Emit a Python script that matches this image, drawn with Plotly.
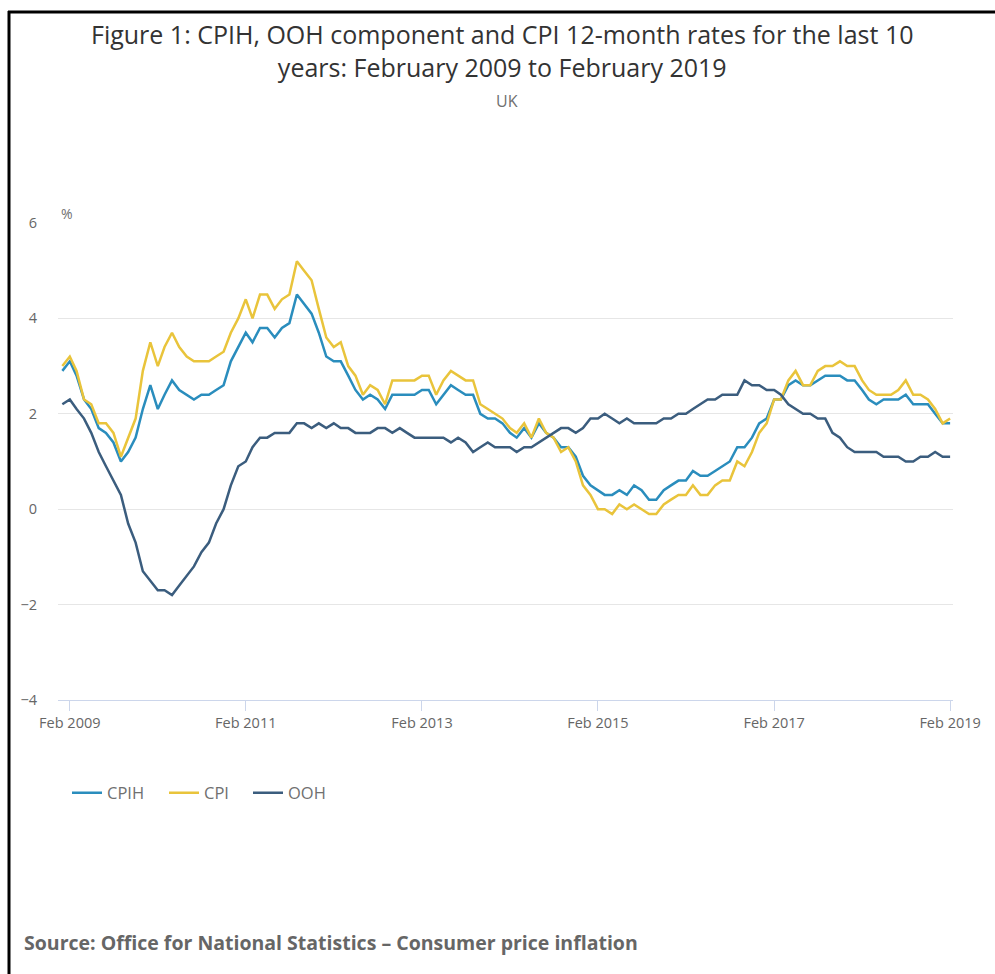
import pandas as pd
import plotly.graph_objects as go

months = pd.date_range("2009-01-01", "2019-02-01", freq="MS")

cpih = [2.9, 3.1, 2.8, 2.3, 2.1, 1.7, 1.6, 1.4, 1.0, 1.2, 1.5, 2.1,
        2.6, 2.1, 2.4, 2.7, 2.5, 2.4, 2.3, 2.4, 2.4, 2.5, 2.6, 3.1,
        3.4, 3.7, 3.5, 3.8, 3.8, 3.6, 3.8, 3.9, 4.5, 4.3, 4.1, 3.7,
        3.2, 3.1, 3.1, 2.8, 2.5, 2.3, 2.4, 2.3, 2.1, 2.4, 2.4, 2.4,
        2.4, 2.5, 2.5, 2.2, 2.4, 2.6, 2.5, 2.4, 2.4, 2.0, 1.9, 1.9,
        1.8, 1.6, 1.5, 1.7, 1.5, 1.8, 1.6, 1.5, 1.3, 1.3, 1.1, 0.7,
        0.5, 0.4, 0.3, 0.3, 0.4, 0.3, 0.5, 0.4, 0.2, 0.2, 0.4, 0.5,
        0.6, 0.6, 0.8, 0.7, 0.7, 0.8, 0.9, 1.0, 1.3, 1.3, 1.5, 1.8,
        1.9, 2.3, 2.3, 2.6, 2.7, 2.6, 2.6, 2.7, 2.8, 2.8, 2.8, 2.7,
        2.7, 2.5, 2.3, 2.2, 2.3, 2.3, 2.3, 2.4, 2.2, 2.2, 2.2, 2.0,
        1.8, 1.8]

cpi = [3.0, 3.2, 2.9, 2.3, 2.2, 1.8, 1.8, 1.6, 1.1, 1.5, 1.9, 2.9,
       3.5, 3.0, 3.4, 3.7, 3.4, 3.2, 3.1, 3.1, 3.1, 3.2, 3.3, 3.7,
       4.0, 4.4, 4.0, 4.5, 4.5, 4.2, 4.4, 4.5, 5.2, 5.0, 4.8, 4.2,
       3.6, 3.4, 3.5, 3.0, 2.8, 2.4, 2.6, 2.5, 2.2, 2.7, 2.7, 2.7,
       2.7, 2.8, 2.8, 2.4, 2.7, 2.9, 2.8, 2.7, 2.7, 2.2, 2.1, 2.0,
       1.9, 1.7, 1.6, 1.8, 1.5, 1.9, 1.6, 1.5, 1.2, 1.3, 1.0, 0.5,
       0.3, 0.0, 0.0, -0.1, 0.1, 0.0, 0.1, 0.0, -0.1, -0.1, 0.1, 0.2,
       0.3, 0.3, 0.5, 0.3, 0.3, 0.5, 0.6, 0.6, 1.0, 0.9, 1.2, 1.6,
       1.8, 2.3, 2.3, 2.7, 2.9, 2.6, 2.6, 2.9, 3.0, 3.0, 3.1, 3.0,
       3.0, 2.7, 2.5, 2.4, 2.4, 2.4, 2.5, 2.7, 2.4, 2.4, 2.3, 2.1,
       1.8, 1.9]

ooh = [2.2, 2.3, 2.1, 1.9, 1.6, 1.2, 0.9, 0.6, 0.3, -0.3, -0.7, -1.3,
       -1.5, -1.7, -1.7, -1.8, -1.6, -1.4, -1.2, -0.9, -0.7, -0.3, 0.0, 0.5,
       0.9, 1.0, 1.3, 1.5, 1.5, 1.6, 1.6, 1.6, 1.8, 1.8, 1.7, 1.8,
       1.7, 1.8, 1.7, 1.7, 1.6, 1.6, 1.6, 1.7, 1.7, 1.6, 1.7, 1.6,
       1.5, 1.5, 1.5, 1.5, 1.5, 1.4, 1.5, 1.4, 1.2, 1.3, 1.4, 1.3,
       1.3, 1.3, 1.2, 1.3, 1.3, 1.4, 1.5, 1.6, 1.7, 1.7, 1.6, 1.7,
       1.9, 1.9, 2.0, 1.9, 1.8, 1.9, 1.8, 1.8, 1.8, 1.8, 1.9, 1.9,
       2.0, 2.0, 2.1, 2.2, 2.3, 2.3, 2.4, 2.4, 2.4, 2.7, 2.6, 2.6,
       2.5, 2.5, 2.4, 2.2, 2.1, 2.0, 2.0, 1.9, 1.9, 1.6, 1.5, 1.3,
       1.2, 1.2, 1.2, 1.2, 1.1, 1.1, 1.1, 1.0, 1.0, 1.1, 1.1, 1.2,
       1.1, 1.1]

tick_dates = ["2009-02-01", "2011-02-01", "2013-02-01", "2015-02-01", "2017-02-01", "2019-02-01"]
tick_labels = ["Feb 2009", "Feb 2011", "Feb 2013", "Feb 2015", "Feb 2017", "Feb 2019"]
y_ticks = [-4, -2, 0, 2, 4, 6]

series = [("CPIH", cpih, "#2a8dbd"), ("CPI", cpi, "#e9c43b"), ("OOH", ooh, "#3b5d7e")]

FONT = "Open Sans"
W, H = 995, 974
L, R, T, B = 58, 42, 223, 274
PW, PH = W - L - R, H - T - B


def px(x):
    return (x - L) / PW


def py(y):
    return (H - B - y) / PH


legend_keys = ["legend", "legend2", "legend3"]
legend_text_x = [107, 204, 288]

fig = go.Figure()
for (name, vals, col), key in zip(series, legend_keys):
    fig.add_trace(go.Scatter(x=months, y=vals, mode="lines", name=name,
                             line=dict(color=col, width=2.5), legend=key))

legend_layout = {}
for key, tx in zip(legend_keys, legend_text_x):
    legend_layout[key] = dict(orientation="h", x=px(tx - 40), xanchor="left",
                              y=py(793), yanchor="middle",
                              font=dict(size=16.5, color="#707070", family=FONT),
                              bgcolor="rgba(0,0,0,0)")

fig.update_layout(
    width=W, height=H,
    margin=dict(l=L, r=R, t=T, b=B),
    paper_bgcolor="white", plot_bgcolor="white",
    font=dict(family=FONT, color="#666666"),
    showlegend=True,
    xaxis=dict(type="date", range=["2008-12-14", "2019-02-13"],
               tickvals=tick_dates, ticktext=tick_labels,
               showgrid=False, zeroline=False,
               showline=True, linecolor="#ccd6eb", linewidth=1,
               ticks="outside", ticklen=10, tickcolor="#ccd6eb",
               tickfont=dict(size=14.5, color="#666666")),
    yaxis=dict(range=[-4, 6], tickvals=y_ticks,
               showgrid=True, gridcolor="#e6e6e6", gridwidth=1,
               zeroline=False, showline=False,
               ticklabelstandoff=20,
               tickfont=dict(size=14.5, color="#666666")),
    **legend_layout,
)

fig.add_annotation(xref="paper", yref="paper", x=px(502), y=py(50),
                   text="Figure 1: CPIH, OOH component and CPI 12-month rates for the last 10<br>years: February 2009 to February 2019",
                   showarrow=False, xanchor="center", yanchor="middle",
                   font=dict(size=25, color="#333333", family=FONT))
fig.add_annotation(xref="paper", yref="paper", x=px(507), y=py(101), text="UK",
                   showarrow=False, xanchor="center", yanchor="middle",
                   font=dict(size=16, color="#707070", family=FONT))
fig.add_annotation(xref="paper", yref="paper", x=px(59), y=py(213), text="%",
                   showarrow=False, xanchor="left", yanchor="middle",
                   font=dict(size=14, color="#707070", family=FONT))
fig.add_annotation(xref="paper", yref="paper", x=px(22), y=py(942),
                   text="<b>Source: Office for National Statistics \u2013 Consumer price inflation</b>",
                   showarrow=False, xanchor="left", yanchor="middle",
                   font=dict(size=19.5, color="#666666", family=FONT))

fig.add_shape(type="line", xref="paper", yref="paper", x0=px(9), x1=px(9), y0=py(11), y1=py(980),
              line=dict(color="black", width=3))
fig.add_shape(type="line", xref="paper", yref="paper", x0=px(8), x1=px(1000), y0=py(12), y1=py(12),
              line=dict(color="black", width=3))

fig.write_html("out.html")
